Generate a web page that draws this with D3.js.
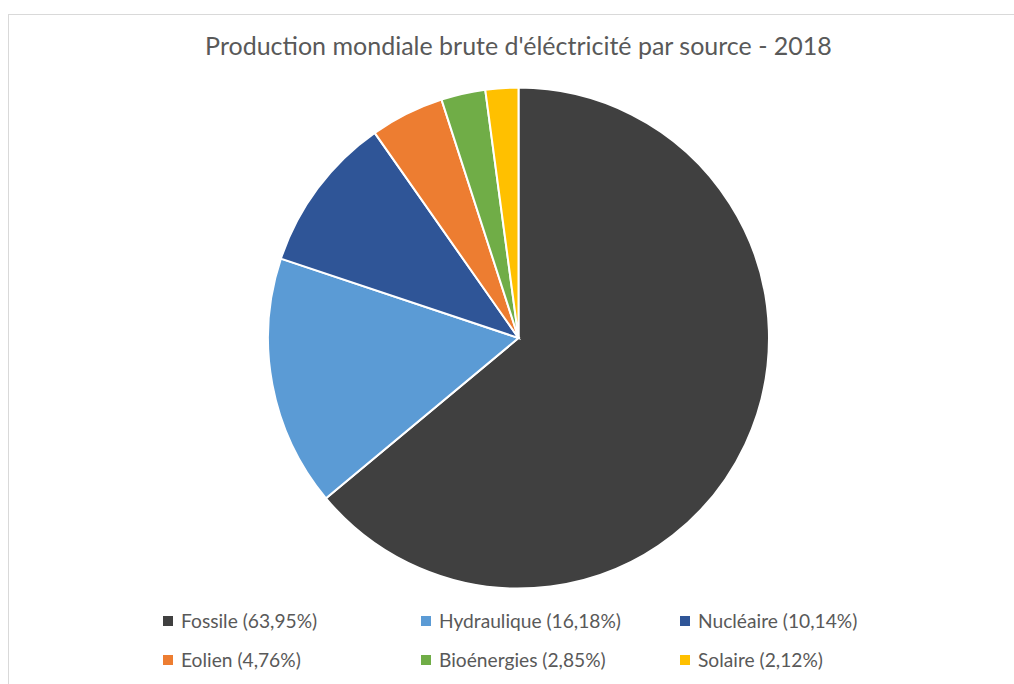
<!DOCTYPE html>
<html>
<head>
<meta charset="utf-8">
<script src="https://cdn.jsdelivr.net/npm/d3@7"></script>
<style>
  body { margin: 0; background: #fff; }
  text { font-family: Lato, "Open Sans", sans-serif; fill: #595959; }
</style>
</head>
<body>
<div id="chart"></div>
<script>
// data
var sources = ['Fossile', 'Hydraulique', 'Nucléaire', 'Eolien', 'Bioénergies', 'Solaire'];
var shares = [63.95, 16.18, 10.14, 4.76, 2.85, 2.12];
var colors = ['#404040', '#5b9bd5', '#2f5597', '#ed7d31', '#70ad47', '#ffc000'];
var title = "Production mondiale brute d'éléctricité par source - 2018";

var width = 1014, height = 684;
var cx = 518.5, cy = 338, radius = 250.5;

var svg = d3.select('#chart')
	.append('svg')
		.attr('width', width)
		.attr('height', height);

// chart frame
svg.append('rect')
	.attr('x', 8.5)
	.attr('y', 14.5)
	.attr('width', width + 20)
	.attr('height', height + 20)
	.attr('fill', '#fff')
	.attr('stroke', '#d9d9d9')
	.attr('stroke-width', 1);

svg.append('text')
	.attr('x', cx)
	.attr('y', 55)
	.attr('text-anchor', 'middle')
	.style('font-size', '25px')
	.text(title);

var data = sources.map(function(s, i){ return { name: s, value: shares[i], color: colors[i] }; });

var pie = d3.pie().sort(null).value(function(d){ return d.value; });
var arc = d3.arc().innerRadius(0).outerRadius(radius);

var g = svg.append('g').attr('transform', 'translate(' + cx + ',' + cy + ')');
g.selectAll('path')
	.data(pie(data))
	.enter()
	.append('path')
		.attr('d', arc)
		.attr('fill', function(d){ return d.data.color; })
		.attr('stroke', '#fff')
		.attr('stroke-width', 2);

// legend, 3 columns x 2 rows
var colX = [163, 421, 680];
var rowY = [621, 660];
var fmt = function(v){ return v.toFixed(2).replace('.', ','); };

var items = svg.selectAll('.legend')
	.data(data)
	.enter()
	.append('g')
		.attr('class', 'legend')
		.attr('transform', function(d, i){ return 'translate(' + colX[i % 3] + ',' + rowY[Math.floor(i / 3)] + ')'; });

items.append('rect')
	.attr('x', 0)
	.attr('y', -5)
	.attr('width', 10)
	.attr('height', 10)
	.attr('fill', function(d){ return d.color; });

items.append('text')
	.attr('x', 18)
	.attr('y', 7)
	.style('font-size', '19.2px')
	.text(function(d){ return d.name + ' (' + fmt(d.value) + '%)'; });
</script>
</body>
</html>
